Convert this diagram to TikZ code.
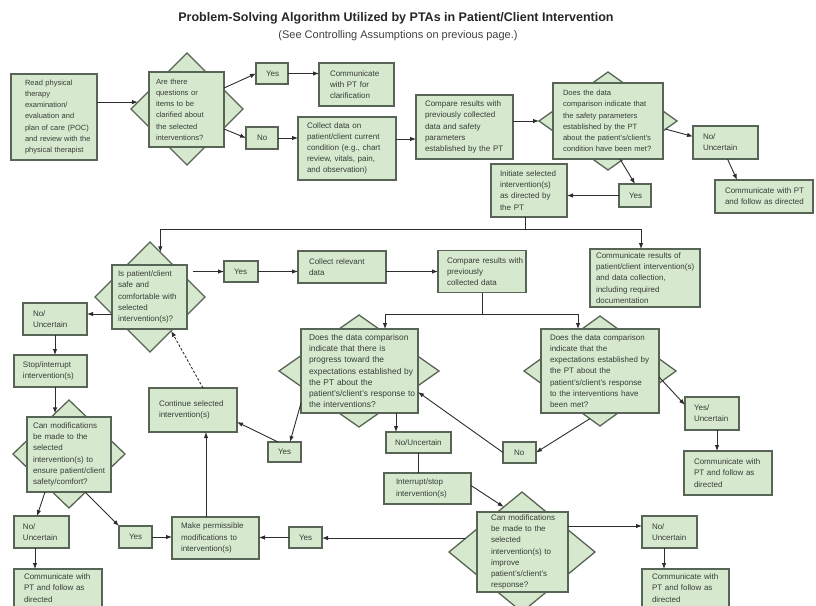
\documentclass[tikz,border=0pt]{standalone}
\usepackage{fontspec}
\setmainfont{Liberation Sans}
\usetikzlibrary{shapes.geometric,arrows.meta}
\definecolor{boxfill}{RGB}{214,233,206}
\definecolor{boxedge}{RGB}{88,100,86}
\definecolor{txt}{RGB}{55,60,55}
\definecolor{wire}{RGB}{45,45,45}
\begin{document}
\begin{tikzpicture}[x=1pt,y=-1pt,
  bx/.style={draw=boxedge, fill=boxfill, line width=1.3pt, inner xsep=0pt, inner ysep=1pt,
    outer sep=0pt, align=left, text=txt, font=\fontsize{8}{11.2}\selectfont},
  sz/.style 2 args={minimum width=#1pt, text width=#1pt, minimum height=#2pt},
  lp/.style={execute at begin node={\leftskip=#1pt}},
  fs/.style={font=\fontsize{#1}{11.2}\selectfont},
  dia/.style 2 args={diamond, draw=boxedge, fill=boxfill, line width=1.3pt, inner sep=0pt,
    outer sep=0pt, minimum width=#1pt, minimum height=#2pt},
  arr/.style={draw=wire, line width=0.9pt, -{Latex[length=6pt,width=4.5pt]}},
  wireline/.style={draw=wire, line width=0.9pt},
]
\fill[white] (0,0) rectangle (816,605);
\useasboundingbox (0,0) rectangle (816,605);

% heading
\node[font=\bfseries\fontsize{12.5}{15}\selectfont, text=black!85] (title) at (396,18)
  {Problem-Solving Algorithm Utilized by PTAs in Patient/Client Intervention};
\node[font=\fontsize{11}{13}\selectfont, text=black!75] (subtitle) at (398,36)
  {(See Controlling Assumptions on previous page.)};

% diamonds behind the decision boxes
\node[dia={112}{112}] (d1d) at (187,109) {};
\node[dia={138}{98}]  (d2d) at (608,121) {};
\node[dia={110}{110}] (d3d) at (150,297) {};
\node[dia={160}{112}] (d4d) at (359,371) {};
\node[dia={152}{110}] (d5d) at (600,371) {};
\node[dia={146}{120}] (d6d) at (522,552) {};
\node[dia={112}{108}] (d7d) at (69,454) {};

% top row
\node[bx, fs=7.5, sz={86}{86}, lp=14] (read) at (54,117) {Read physical\\therapy\\examination/\\evaluation and\\plan of care (POC)\\and review with the\\physical therapist};
\node[bx, fs=7.6, sz={75}{75}, lp=7] (d1) at (186.5,109.5) {Are there\\questions or\\items to be\\clarified about\\the selected\\interventions?};
\node[bx, sz={32}{21}, lp=10] (yes1) at (272,73.5) {Yes};
\node[bx, sz={75}{43}, lp=11] (clar) at (356.5,84.5) {Communicate\\with PT for\\clarification};
\node[bx, sz={32}{22}, lp=11] (no1) at (262,138) {No};
\node[bx, sz={98}{63}, lp=9] (collect) at (347,148.5) {Collect data on\\patient/client current\\condition (e.g., chart\\review, vitals, pain,\\and observation)};
\node[bx, sz={97}{64}, lp=9] (cmp1) at (464.5,127) {Compare results with\\previously collected\\data and safety\\parameters\\established by the PT};
\node[bx, fs=7.6, sz={110}{76}, lp=10] (d2) at (608,121) {Does the data\\comparison indicate that\\the safety parameters\\established by the PT\\about the patient's/client's\\condition have been met?};
\node[bx, sz={65}{33}, lp=10] (nou1) at (725.5,142.5) {No/\\Uncertain};
\node[bx, sz={98}{33}, lp=10] (comm1) at (764,196.5) {Communicate with PT\\and follow as directed};
\node[bx, sz={32}{23}, lp=10] (yes2) at (635,195.5) {Yes};
\node[bx, sz={76}{53}, lp=9] (init) at (529,190.5) {Initiate selected\\intervention(s)\\as directed by\\the PT};

% middle rows
\node[bx, sz={75}{64}, lp=6] (d3) at (149.5,297) {Is patient/client\\safe and\\comfortable with\\selected\\intervention(s)?};
\node[bx, sz={34}{21}, lp=10] (yes3) at (241,271.5) {Yes};
\node[bx, sz={88}{32}, lp=11] (colrel) at (342,267) {Collect relevant\\data};
\node[bx, sz={88}{42}, lp=9] (cmp2) at (482,271.5) {Compare results with\\previously\\collected data};
\node[bx, sz={110}{58}, lp=6] (commres) at (645,278) {Communicate results of\\patient/client intervention(s)\\and data collection,\\including required\\documentation};
\node[bx, fs=8.4, sz={117}{84}, lp=8] (d4) at (359.5,371) {Does the data comparison\\indicate that there is\\progress toward the\\expectations established by\\the PT about the\\patient's/client's response to\\the interventions?};
\node[bx, sz={118}{84}, lp=9] (d5) at (600,371) {Does the data comparison\\indicate that the\\expectations established by\\the PT about the\\patient's/client's response\\to the interventions have\\been met?};
\node[bx, sz={54}{33}, lp=9] (yesunc) at (712,413.5) {Yes/\\Uncertain};
\node[bx, sz={88}{44}, lp=10] (comm2) at (728,473) {Communicate with\\PT and follow as\\directed};
\node[bx, sz={33}{21}, lp=11] (no2) at (519.5,452.5) {No};
\node[bx, sz={33}{20}, lp=10] (yes4) at (284.5,452) {Yes};
\node[bx, sz={65}{21}, lp=9] (nou2) at (418.5,442.5) {No/Uncertain};
\node[bx, sz={87}{31}, lp=12] (interrupt) at (427.5,488.5) {Interrupt/stop\\intervention(s)};
\node[bx, sz={88}{44}, lp=10] (cont) at (193,410) {Continue selected\\intervention(s)};

% bottom rows
\node[bx, sz={91}{80}, lp=14] (d6) at (522.5,552) {Can modifications\\be made to the\\selected\\intervention(s) to\\improve\\patient's/client's\\response?};
\node[bx, sz={33}{21}, lp=10] (yes5) at (305.5,537.5) {Yes};
\node[bx, sz={87}{42}, lp=9] (make) at (215.5,538) {Make permissible\\modifications to\\intervention(s)};
\node[bx, sz={55}{32}, lp=10] (nou3) at (669.5,532) {No/\\Uncertain};
\node[bx, sz={87}{38}, lp=10] (comm3) at (685.5,588) {Communicate with\\PT and follow as\\directed};
\node[bx, sz={64}{32}, lp=10] (nou4) at (55,319) {No/\\Uncertain};
\node[bx, sz={73}{32}, lp=9] (stop) at (50.5,371) {Stop/interrupt\\intervention(s)};
\node[bx, sz={84}{75}, lp=6] (d7) at (69,454.5) {Can modifications\\be made to the\\selected\\intervention(s) to\\ensure patient/client\\safety/comfort?};
\node[bx, sz={55}{32}, lp=9] (nou5) at (41.5,532) {No/\\Uncertain};
\node[bx, sz={88}{38}, lp=10] (comm4) at (58,588) {Communicate with\\PT and follow as\\directed};
\node[bx, sz={33}{22}, lp=10] (yes6) at (135.5,537) {Yes};

% connectors: top row
\draw[arr] (d1d.172 -| read.east) -- (d1d.172);
\draw[arr] ([yshift=21.5pt]d1.east) -- (yes1.west);
\draw[arr] ([yshift=-19.5pt]d1.east) -- (no1.west);
\draw[arr] (yes1.east) -- (yes1.east -| clar.west);
\draw[arr] (no1.east) -- (no1.east -| collect.west);
\draw[arr] ([yshift=9.5pt]collect.east) -- ([yshift=-12pt]cmp1.west);
\draw[arr] (d2d.west -| cmp1.east) -- (d2d.west);
\draw[arr] (d2d.-8) -- ([yshift=6pt]nou1.west);
\draw[arr] ([xshift=2pt]nou1.south) -- ([xshift=-27pt]comm1.north);
\draw[arr] ([xshift=12pt]d2.south) -- (yes2.north);
\draw[arr] (yes2.west) -- (yes2.west -| init.east);

% distribution line below the initiate box
\coordinate (busA) at (0,229);
\coordinate (jA) at ([xshift=-4pt]init.south);
\draw[arr] (jA) -- (jA |- busA) -| (d3d.77);
\draw[arr] (jA |- busA) -| ([xshift=-4pt]commres.north);

% connectors: middle rows
\draw[arr] ([xshift=6pt,yshift=25.5pt]d3.east) -- (yes3.west);
\draw[arr] (yes3.east) -- ([yshift=-4.5pt]colrel.west);
\draw[arr] ([yshift=-4.5pt]colrel.east) -- (cmp2.west);
\coordinate (busB) at (0,314);
\draw[wireline] (cmp2.south) -- (cmp2.south |- busB);
\draw[arr] (cmp2.south |- busB) -| ([xshift=25.5pt]d4.north);
\draw[arr] (cmp2.south |- busB) -| ([xshift=-22pt]d5.north);
\draw[arr] ([yshift=-32pt]d4.west) -- ([xshift=5.5pt]yes4.north);
\draw[arr] ([xshift=-6.5pt]yes4.north) -- ([yshift=-12pt]cont.east);
\draw[arr] ([xshift=36.5pt]d4.south) -- ([xshift=-22.5pt]nou2.north);
\draw[wireline] (nou2.south) -- (nou2.south |- interrupt.north);
\draw[arr] ([yshift=3pt]interrupt.east) -- (d6d.112);
\draw[arr] ([yshift=-6pt]d5.east) -- ([yshift=-8pt]yesunc.north west);
\draw[arr] ([xshift=5pt]yesunc.south) -- ([xshift=-11pt]comm2.north);
\draw[arr] (d5d.258) -- (no2.east);
\draw[arr] (no2.west) -- ([yshift=-21pt]d4.east);

% connectors: bottom rows
\draw[arr] (d6d.166) -- (d6d.166 -| yes5.east);
\draw[arr] (yes5.west) -- (yes5.west -| make.east);
\draw[arr] ([yshift=26pt]d6.east) -- ([yshift=6pt]nou3.west);
\draw[arr] ([xshift=-5.5pt]nou3.south) -- ([xshift=-21.5pt]comm3.north);

% connectors: left column
\draw[arr] ([yshift=-17pt]d3.west) -- ([yshift=5pt]nou4.east);
\draw[arr] (nou4.south) -- (nou4.south |- stop.north);
\draw[arr] (d7d.109 |- stop.south) -- (d7d.109);
\draw[arr] ([xshift=-24pt]d7.south) -- ([xshift=-4.5pt]nou5.north);
\draw[arr] ([xshift=-6.5pt]nou5.south) -- ([xshift=-23pt]comm4.north);
\draw[arr] ([xshift=16pt]d7.south) -- (yes6.north west);
\draw[arr] (yes6.east) -- (yes6.east -| make.west);
\draw[arr] ([xshift=-9.5pt]make.north) -- ([xshift=13pt]cont.south);
\draw[arr, dash pattern=on 2.5pt off 1.8pt] ([xshift=10pt]cont.north) -- (d3d.-58);
\end{tikzpicture}
\end{document}
